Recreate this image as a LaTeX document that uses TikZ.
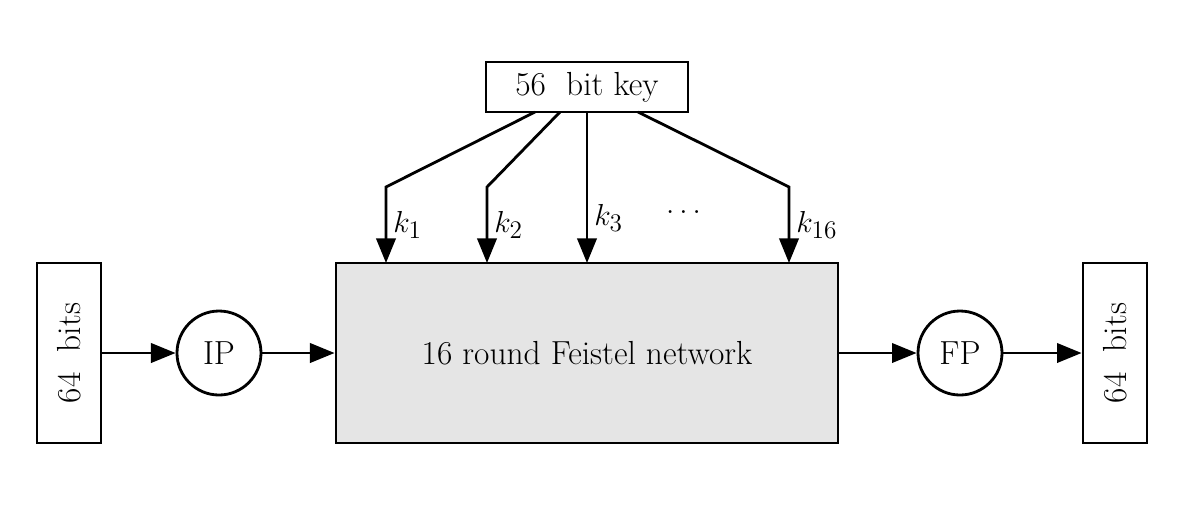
\documentclass[tikz,border=0pt]{standalone}
\usepackage{amsmath}
\usetikzlibrary{arrows.meta}
\usetikzlibrary{positioning}

\begin{document}
\begin{tikzpicture}[x=0.02cm, y=-0.02cm, line width=1.6pt,
    every node/.style={font=\fontsize{19}{23}\selectfont},
    box/.style={draw, rectangle, inner sep=0pt},
    perm/.style={draw, circle, minimum size=84*0.02cm, inner sep=0pt},
    arr/.style={-{Triangle[length=14pt, width=11pt]}}]
  \useasboundingbox (0,0) rectangle (1184,508);

  \node[box, minimum width=202*0.02cm, minimum height=50*0.02cm] (key) at (587,87) {56\ \ bit key};
  \node[box, fill=gray!20, minimum width=502*0.02cm, minimum height=180*0.02cm] (feistel) at (587,353) {16 round Feistel network};
  \node[box, minimum width=64*0.02cm, minimum height=180*0.02cm] (inbits) at (69,353) {};
  \node[rotate=90] at (inbits.center) {64\ \ bits};
  \node[box, minimum width=64*0.02cm, minimum height=180*0.02cm] (outbits) at (1115,353) {};
  \node[rotate=90] at (outbits.center) {64\ \ bits};
  \node[perm] (ip) at (219,353) {IP};
  \node[perm] (fp) at (960,353) {FP};

  % data path
  \draw[arr] (inbits) -- (ip);
  \draw[arr] (ip) -- (feistel);
  \draw[arr] (feistel) -- (fp);
  \draw[arr] (fp) -- (outbits);

  % round keys
  \coordinate (c1) at (386,187);
  \coordinate (c2) at (487,187);
  \coordinate (c16) at (789,187);
  \draw[arr] (535,112) -- (c1) -- (386,263) node[midway, right] {$k_1$};
  \draw[arr] (560,112) -- (c2) -- (487,263) node[midway, right] {$k_2$};
  \draw[arr] (key.south) -- (587,263) node[pos=0.7, right] {$k_3$};
  \draw[arr] (638,112) -- (c16) -- (789,263) node[midway, right] {$k_{16}$};
  \node (dots) at (686,212) {$\dots$};
\end{tikzpicture}
\end{document}
